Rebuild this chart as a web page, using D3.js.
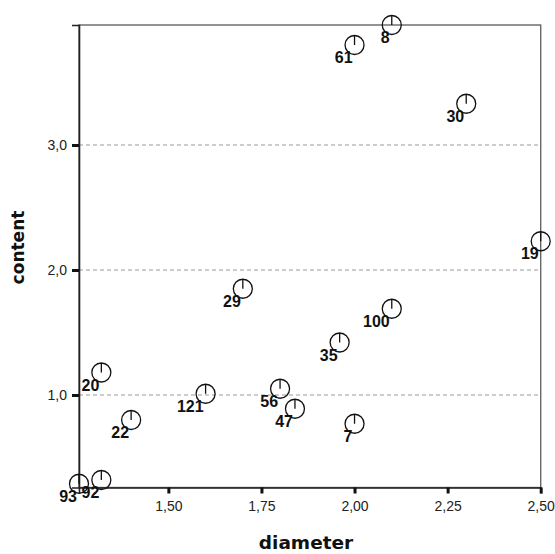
<!DOCTYPE html>
<html>
<head>
<meta charset="utf-8">
<script src="https://cdn.jsdelivr.net/npm/d3@7/dist/d3.min.js"></script>
<style>
  html, body { margin: 0; padding: 0; background: #fff; }
  svg { display: block; }
</style>
</head>
<body>
<svg id="chart" width="555" height="554"></svg>
<script>
// Case numbers, diameter and content for each observation
const caseIds  = ["8", "61", "30", "19", "29", "100", "35", "121", "56", "47", "7", "20", "22", "92", "93"];
const diameter = [2.10, 2.00, 2.30, 2.50, 1.70, 2.10, 1.96, 1.60, 1.80, 1.84, 2.00, 1.32, 1.40, 1.32, 1.26];
const content  = [3.96, 3.80, 3.33, 2.23, 1.85, 1.69, 1.42, 1.01, 1.05, 0.89, 0.77, 1.18, 0.80, 0.32, 0.29];

const xTicks = [1.50, 1.75, 2.00, 2.25, 2.50];
const yTicks = [1.0, 2.0, 3.0];
const xTitle = "diameter";
const yTitle = "content";

const points = caseIds.map((id, i) => ({ id, x: diameter[i], y: content[i] }));

const svg = d3.select("#chart");
const plotLeft = 79, plotRight = 540.7, plotTop = 25, plotBottom = 487.5;

const x = d3.scaleLinear().domain([1.26, 2.50]).range([plotLeft, plotRight]);
const y = d3.scaleLinear().domain([0.26, 3.96]).range([plotBottom, plotTop]);

const commaX = d => d3.format(".2f")(d).replace(".", ",");
const commaY = d => d3.format(".1f")(d).replace(".", ",");

// horizontal reference lines
svg.append("g")
  .selectAll("line")
  .data(yTicks)
  .join("line")
  .attr("x1", plotLeft).attr("x2", plotRight)
  .attr("y1", d => y(d)).attr("y2", d => y(d))
  .attr("stroke", "#9a9a9a")
  .attr("stroke-width", 1.2)
  .attr("stroke-dasharray", "4,3");

// frame
svg.append("rect")
  .attr("x", plotLeft).attr("y", plotTop)
  .attr("width", plotRight - plotLeft).attr("height", plotBottom - plotTop)
  .attr("fill", "none")
  .attr("stroke", "#666")
  .attr("stroke-width", 1.4);

// x axis
const xAxis = svg.append("g")
  .attr("transform", `translate(0,${plotBottom})`)
  .call(d3.axisBottom(x).tickValues(xTicks).tickFormat(commaX).tickSize(6).tickPadding(8));
xAxis.select(".domain").attr("stroke", "#222").attr("stroke-width", 1.6);
xAxis.selectAll(".tick line").attr("stroke", "#111").attr("stroke-width", 3);
xAxis.selectAll(".tick text")
  .attr("font-family", "Liberation Sans, Arial, sans-serif")
  .attr("font-size", 14)
  .attr("fill", "#222");

// y axis
const yAxis = svg.append("g")
  .attr("transform", `translate(${plotLeft},0)`)
  .call(d3.axisLeft(y).tickValues(yTicks).tickFormat(commaY).tickSize(7).tickPadding(5));
yAxis.select(".domain").attr("stroke", "#222").attr("stroke-width", 1.6);
yAxis.selectAll(".tick line").attr("stroke", "#111").attr("stroke-width", 3);
yAxis.selectAll(".tick text")
  .attr("font-family", "Liberation Sans, Arial, sans-serif")
  .attr("font-size", 14)
  .attr("fill", "#222");

// axis titles
svg.append("text")
  .attr("x", 306)
  .attr("y", 549)
  .attr("text-anchor", "middle")
  .attr("font-family", "DejaVu Sans, Verdana, sans-serif")
  .attr("font-weight", "bold")
  .attr("font-size", 18.5)
  .attr("fill", "#111")
  .text(xTitle);

svg.append("text")
  .attr("transform", "translate(24,247.5) rotate(-90)")
  .attr("text-anchor", "middle")
  .attr("font-family", "DejaVu Sans, Verdana, sans-serif")
  .attr("font-weight", "bold")
  .attr("font-size", 17)
  .attr("fill", "#111")
  .text(yTitle);

// markers: open circle with a stem from the top to the centre
const r = 9.5;
const marks = svg.append("g")
  .selectAll("g")
  .data(points)
  .join("g")
  .attr("transform", d => `translate(${x(d.x)},${y(d.y)})`);

marks.append("circle")
  .attr("r", r)
  .attr("fill", "none")
  .attr("stroke", "#111")
  .attr("stroke-width", 1.3);

marks.append("line")
  .attr("x1", 0).attr("x2", 0)
  .attr("y1", -r).attr("y2", 0)
  .attr("stroke", "#111")
  .attr("stroke-width", 1.3);

// case labels
marks.append("text")
  .attr("x", -2)
  .attr("y", 18)
  .attr("text-anchor", "end")
  .attr("font-family", "Liberation Sans, Arial, sans-serif")
  .attr("font-weight", "bold")
  .attr("font-size", 16)
  .attr("fill", "#111")
  .text(d => d.id);
</script>
</body>
</html>
